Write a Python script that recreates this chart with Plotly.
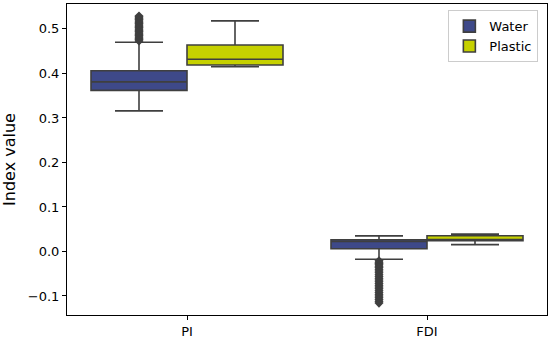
import plotly.graph_objects as go

categories = ["PI", "FDI"]
groups = ["Water", "Plastic"]

water_q1 = [0.362, 0.006]
water_median = [0.381, 0.0225]
water_q3 = [0.406, 0.0265]
water_lower = [0.316, -0.0175]
water_upper = [0.470, 0.035]

plastic_q1 = [0.419, 0.0243]
plastic_median = [0.432, 0.026]
plastic_q3 = [0.464, 0.0355]
plastic_lower = [0.415, 0.0153]
plastic_upper = [0.518, 0.039]

water_pi_outliers = [0.473, 0.476, 0.479, 0.482, 0.485, 0.488, 0.491, 0.494, 0.497,
                     0.500, 0.503, 0.506, 0.509, 0.512, 0.515, 0.518, 0.521, 0.524,
                     0.527, 0.529]
water_fdi_outliers = [-0.021, -0.024, -0.027, -0.030, -0.033, -0.036, -0.040, -0.044,
                      -0.048, -0.052, -0.056, -0.060, -0.064, -0.068, -0.072, -0.076,
                      -0.080, -0.084, -0.088, -0.092, -0.096, -0.100, -0.104, -0.108,
                      -0.112, -0.116]

colors = {"Water": "#3e4989", "Plastic": "#c6d100"}
edge = "#3f3f3f"
font_family = "DejaVu Sans"

box_width = 0.4
offsets = {"Water": -box_width / 2, "Plastic": box_width / 2}

stats = {
    "Water": (water_q1, water_median, water_q3, water_lower, water_upper),
    "Plastic": (plastic_q1, plastic_median, plastic_q3, plastic_lower, plastic_upper),
}

fig = go.Figure()
for g in groups:
    q1, med, q3, lo, hi = stats[g]
    fig.add_trace(go.Box(
        name=g,
        x=[i + offsets[g] for i in range(len(categories))],
        q1=q1, median=med, q3=q3, lowerfence=lo, upperfence=hi,
        width=box_width,
        fillcolor=colors[g],
        line=dict(color=edge, width=1.6),
        whiskerwidth=0.5,
        boxpoints=False,
        showlegend=True,
    ))

outlier_sets = [(0, "Water", water_pi_outliers), (1, "Water", water_fdi_outliers)]
for ci, g, vals in outlier_sets:
    fig.add_trace(go.Scatter(
        x=[ci + offsets[g]] * len(vals),
        y=vals,
        mode="markers",
        marker=dict(symbol="diamond", size=7, color=edge, line=dict(width=0)),
        showlegend=False,
        hoverinfo="y",
    ))

fig.update_layout(
    width=550, height=341,
    margin=dict(l=67, r=3, t=4, b=26, autoexpand=False),
    paper_bgcolor="white", plot_bgcolor="white",
    font=dict(family=font_family, size=13, color="black"),
    boxmode="overlay",
    legend=dict(
        x=0.982, y=0.98, xanchor="right", yanchor="top",
        bgcolor="white", bordercolor="#cccccc", borderwidth=1,
        font=dict(size=13), traceorder="normal", itemwidth=30,
        entrywidth=60, entrywidthmode="pixels", tracegroupgap=0,
    ),
)
fig.update_xaxes(
    range=[-0.5, 1.5], automargin=False,
    tickvals=list(range(len(categories))), ticktext=categories,
    ticks="outside", ticklen=4, tickcolor="black",
    showline=True, linecolor="black", linewidth=1, mirror=True,
    showgrid=False, zeroline=False,
)
fig.update_yaxes(
    range=[-0.1427, 0.556], automargin=False,
    tickvals=[-0.1, 0.0, 0.1, 0.2, 0.3, 0.4, 0.5], tickformat=".1f",
    ticks="outside", ticklen=4, tickcolor="black",
    showline=True, linecolor="black", linewidth=1, mirror=True,
    showgrid=False, zeroline=False,
    title=dict(text="Index value", standoff=12),
)

fig.write_html(
    "out.html",
    config={"displayModeBar": False},
    post_script="document.body.style.margin='0px';",
)
